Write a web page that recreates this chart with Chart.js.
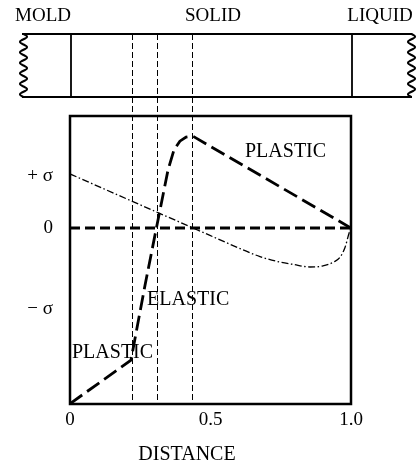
<!DOCTYPE html>
<html>
<head>
<meta charset="utf-8">
<script src="https://cdn.jsdelivr.net/npm/chart.js@4.4.1/dist/chart.umd.min.js"></script>
<style>
body { margin: 0; background: #fff; }
</style>
</head>
<body>
<canvas id="myChart" width="420" height="468"></canvas>
<script>
// stress through the shell, from the mold (0) to the liquid (1)
const stressX = [0, 0.217, 0.267, 0.313, 0.349, 0.370, 0.391, 0.413, 0.436, 1.0];
const stressY = [-3.38, -2.54, -1.10, 0.15, 1.12, 1.50, 1.67, 1.75, 1.77, 0];
// thin dash-dot curve
const thermalX = [0, 0.224, 0.438, 0.616, 0.676, 0.735, 0.794, 0.854, 0.90, 0.94, 0.961, 0.979, 0.993, 1.0];
const thermalY = [1.04, 0.507, 0, -0.42, -0.55, -0.64, -0.70, -0.75, -0.73, -0.65, -0.56, -0.37, -0.10, 0];
const zeroX = [0, 1];
const zeroY = [0, 0];
// plastic / elastic boundaries
const boundaryX = [0.22, 0.31, 0.435];
const xTickValues = [0, 0.5, 1];
const xTickLabels = ['0', '0.5', '1.0'];
const yTickValues = [1, 0, -1.55];
const yTickLabels = ['+ σ', '0', '− σ'];

const serif = '"Liberation Serif", "DejaVu Serif", serif';

function pts(xs, ys) {
  return xs.map((v, i) => ({x: v, y: ys[i]}));
}

function wavy(ctx, cx, y0, y1, amp, period) {
  ctx.beginPath();
  for (let y = y0; y <= y1; y += 0.5) {
    const px = cx + amp * Math.sin(2 * Math.PI * (y - y0) / period);
    if (y === y0) ctx.moveTo(px, y); else ctx.lineTo(px, y);
  }
  ctx.stroke();
}

const sketch = {
  id: 'sketch',
  beforeDatasetsDraw(chart) {
    const {ctx, chartArea: a, scales: {x}} = chart;
    ctx.save();
    ctx.strokeStyle = '#000';
    // dashed boundaries run from the strip down to the axis
    ctx.lineWidth = 1;
    ctx.setLineDash([6, 3]);
    boundaryX.forEach(v => {
      const px = Math.round(x.getPixelForValue(v)) + 0.5;
      ctx.beginPath();
      ctx.moveTo(px, 34);
      ctx.lineTo(px, a.bottom);
      ctx.stroke();
    });
    ctx.setLineDash([]);

    // the strip on top
    ctx.lineWidth = 2;
    ctx.beginPath();
    ctx.moveTo(22, 34); ctx.lineTo(412, 34);
    ctx.moveTo(22, 97); ctx.lineTo(412, 97);
    ctx.stroke();
    wavy(ctx, 23.5, 34, 97, 3.5, 10.5);
    wavy(ctx, 411.5, 34, 97, 3.5, 10.5);
    ctx.lineWidth = 1.8;
    [0, 1].forEach(v => {
      const px = x.getPixelForValue(v) + 1;
      ctx.beginPath();
      ctx.moveTo(px, 34);
      ctx.lineTo(px, 97);
      ctx.stroke();
    });
    ctx.restore();
  },
  afterDatasetsDraw(chart) {
    const {ctx, chartArea: a} = chart;
    ctx.save();
    ctx.strokeStyle = '#000';
    ctx.lineWidth = 2.5;
    ctx.strokeRect(a.left, a.top, a.width, a.height);

    ctx.fillStyle = '#000';
    ctx.textBaseline = 'middle';
    ctx.font = '19px ' + serif;
    ctx.textAlign = 'center';
    ctx.fillText('MOLD', 43, 16);
    ctx.fillText('SOLID', 213, 16);
    ctx.fillText('LIQUID', 380, 16);
    ctx.font = '20px ' + serif;
    ctx.fillText('DISTANCE', 187, 455);
    ctx.textAlign = 'left';
    ctx.fillText('PLASTIC', 245, 152);
    ctx.fillText('ELASTIC', 147, 300);
    ctx.fillText('PLASTIC', 72, 353);
    ctx.restore();
  }
};

const ctx = document.getElementById('myChart');

new Chart(ctx, {
  type: 'scatter',
  data: {
    datasets: [
      {
        label: 'zero',
        data: pts(zeroX, zeroY),
        showLine: true,
        borderColor: '#000',
        borderWidth: 2.8,
        borderDash: [10, 5],
        pointRadius: 0
      },
      {
        label: 'stress',
        data: pts(stressX, stressY),
        showLine: true,
        borderColor: '#000',
        borderWidth: 2.8,
        borderDash: [15, 6],
        pointRadius: 0,
        tension: 0
      },
      {
        label: 'thermal',
        data: pts(thermalX, thermalY),
        showLine: true,
        borderColor: '#000',
        borderWidth: 1.3,
        borderDash: [7, 2.5, 1.5, 2.5],
        pointRadius: 0,
        cubicInterpolationMode: 'monotone'
      }
    ]
  },
  options: {
    responsive: false,
    animation: false,
    devicePixelRatio: 1,
    layout: {padding: {left: 0, right: 69, top: 116, bottom: 0}},
    plugins: {legend: {display: false}, tooltip: {enabled: false}},
    scales: {
      x: {
        type: 'linear',
        min: 0,
        max: 1,
        grid: {display: false, drawTicks: false},
        border: {display: false},
        afterBuildTicks: s => { s.ticks = xTickValues.map(v => ({value: v})); },
        afterFit: s => { s.height = 64; },
        ticks: {
          padding: 5,
          color: '#000',
          font: {family: serif, size: 19},
          callback: v => xTickLabels[xTickValues.indexOf(v)]
        }
      },
      y: {
        type: 'linear',
        min: -3.385,
        max: 2.154,
        grid: {display: false, drawTicks: false},
        border: {display: false},
        afterBuildTicks: s => { s.ticks = yTickValues.map(v => ({value: v})); },
        afterFit: s => { s.width = 70; },
        ticks: {
          padding: 17,
          color: '#000',
          font: {family: serif, size: 19},
          callback: v => yTickLabels[yTickValues.indexOf(v)]
        }
      }
    }
  },
  plugins: [sketch]
});
</script>
</body>
</html>
